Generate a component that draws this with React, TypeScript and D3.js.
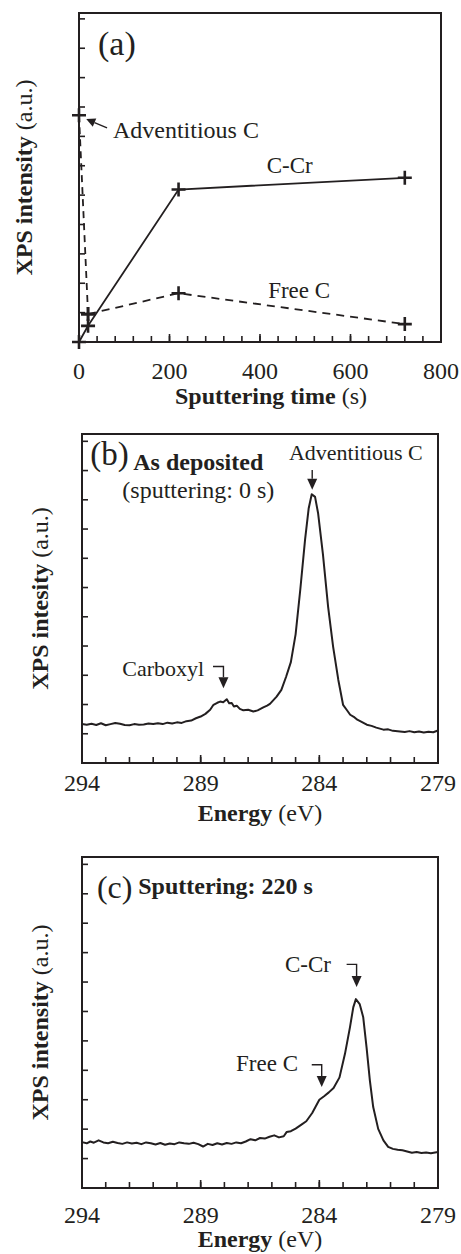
import React from 'react';
import * as d3 from 'd3';

// ---- (a) intensity vs sputtering time ----
const cCrTime = [0, 20, 220, 720];
const cCrIntensity = [0, 0.55, 5.19, 5.59];
const freeCTime = [20, 220, 720];
const freeCIntensity = [0.95, 1.66, 0.61];
const adventTime = [0, 20];
const adventIntensity = [7.72, 0.95];
const timeTicks = [0, 200, 400, 600, 800];

// ---- (b) as deposited spectrum ----
const energyB = [294.0, 293.8, 293.6, 293.4, 293.2, 293.0, 292.8, 292.6, 292.4, 292.2, 292.0, 291.8, 291.6, 291.4, 291.2, 291.0, 290.8, 290.6, 290.4, 290.2, 290.0, 289.8, 289.6, 289.4, 289.2, 289.0,
  288.8, 288.6, 288.46, 288.3, 288.18, 288.05, 287.9, 287.8, 287.69, 287.6, 287.48, 287.35, 287.2, 287.0, 286.78, 286.6, 286.36, 286.2, 286.08, 285.8,
  285.6, 285.4, 285.2, 285.0, 284.8, 284.6, 284.45, 284.32, 284.18, 284.05,
  283.85, 283.63, 283.42, 283.2, 283.0, 282.85, 282.7, 282.55, 282.4, 282.2, 282.0,
  281.8, 281.6, 281.3, 281.1, 280.9, 280.6, 280.4, 280.2, 280.0, 279.8, 279.6, 279.4, 279.2, 279.0];
const intensityB = [1.33, 1.31, 1.34, 1.30, 1.36, 1.29, 1.33, 1.37, 1.34, 1.30, 1.29, 1.33, 1.31, 1.32, 1.35, 1.33, 1.36, 1.33, 1.38, 1.35, 1.39, 1.37, 1.43, 1.45, 1.53, 1.59,
  1.68, 1.82, 1.99, 2.06, 2.10, 2.08, 2.18, 2.04, 2.05, 1.93, 1.96, 1.85, 1.80, 1.82, 1.76, 1.80, 1.90, 1.96, 2.02, 2.27,
  2.50, 2.95, 3.45, 4.40, 5.95, 7.65, 8.70, 9.19, 9.10, 8.53,
  7.15, 5.34, 3.98, 2.84, 1.99, 1.82, 1.65, 1.58, 1.48, 1.40, 1.31,
  1.27, 1.21, 1.14, 1.15, 1.10, 1.08, 1.06, 1.09, 1.05, 1.08, 1.04, 1.07, 1.05, 1.11];

// ---- (c) after 220 s sputtering ----
const energyC = [294.0, 293.8, 293.65, 293.5, 293.3, 293.1, 292.9, 292.7, 292.5, 292.3,
  292.1, 291.9, 291.7, 291.5, 291.3, 291.1, 290.9, 290.7, 290.5, 290.3,
  290.1, 289.9, 289.7, 289.5, 289.3, 289.1, 288.9, 288.7, 288.5, 288.3,
  288.1, 287.9, 287.7, 287.5, 287.3, 287.1, 286.9, 286.7, 286.5, 286.3,
  286.1, 285.9, 285.7, 285.5, 285.38, 285.2, 285.0, 284.8, 284.55, 284.3,
  284.0, 283.8, 283.6, 283.4, 283.15, 282.92, 282.71, 282.57, 282.46, 282.3,
  282.15, 282.01, 281.87, 281.73, 281.52, 281.3, 281.1, 280.9, 280.7, 280.5,
  280.3, 280.1, 279.9, 279.7, 279.5, 279.3, 279.0];
const intensityC = [1.56, 1.52, 1.58, 1.54, 1.62, 1.55, 1.52, 1.57, 1.53, 1.50,
  1.55, 1.51, 1.54, 1.49, 1.55, 1.52, 1.48, 1.53, 1.47, 1.51,
  1.49, 1.55, 1.52, 1.50, 1.54, 1.49, 1.41, 1.50, 1.46, 1.52,
  1.48, 1.53, 1.50, 1.55, 1.52, 1.58, 1.66, 1.62, 1.70, 1.68,
  1.74, 1.79, 1.72, 1.76, 1.90, 1.93, 2.02, 2.13, 2.27, 2.55,
  3.00, 3.12, 3.25, 3.40, 3.76, 4.56, 5.46, 6.14, 6.42, 6.25,
  5.80, 4.78, 3.65, 2.75, 2.01, 1.62, 1.40, 1.33, 1.30, 1.28,
  1.24, 1.20, 1.22, 1.19, 1.21, 1.18, 1.22];
const energyTicks = [294, 289, 284, 279];

const INK = '#231f20';
const FONT = '"Liberation Serif", "Times New Roman", serif';

const zip = (xs: number[], ys: number[]) => xs.map((x, i) => [x, ys[i]] as [number, number]).filter(d => d[1] != null);

type Scale = d3.ScaleLinear<number, number>;

function Frame({ x, y, minor, major, yTicks, labelDy, titleDy, xTitle, xTitleBold, xTitleX, yTitleBold, yTitleX }: any) {
  const [x0, x1] = x.range();
  const [y0, y1] = y.range();
  return (
    <g>
      <rect x={x0} y={y1} width={x1 - x0} height={y0 - y1} fill="none" stroke={INK} strokeWidth={2} />
      {yTicks.map((t: number) => (
        <line key={'y' + t} x1={x0} x2={x0 + 6} y1={y(t)} y2={y(t)} stroke={INK} strokeWidth={1.6} />
      ))}
      {minor.map((t: number) => (
        <line key={'m' + t} x1={x(t)} x2={x(t)} y1={y0} y2={y0 - 6} stroke={INK} strokeWidth={1.6} />
      ))}
      {major.map((t: number) => (
        <g key={'M' + t}>
          <line x1={x(t)} x2={x(t)} y1={y0} y2={y0 - 8} stroke={INK} strokeWidth={1.6} />
          <text x={x(t)} y={y0 + labelDy} textAnchor="middle" fontSize={24}>{t}</text>
        </g>
      ))}
      <text x={xTitleX} y={y0 + titleDy} textAnchor="middle" fontSize={24}>
        <tspan fontWeight="bold">{xTitleBold}</tspan> {xTitle}
      </text>
      <text transform={`translate(${yTitleX},${(y0 + y1) / 2}) rotate(-90)`} textAnchor="middle" fontSize={24}>
        <tspan fontWeight="bold">{yTitleBold}</tspan> (a.u.)
      </text>
    </g>
  );
}

function Cross({ cx, cy }: { cx: number; cy: number }) {
  return (
    <path d={`M${cx - 7},${cy}H${cx + 7}M${cx},${cy - 7}V${cy + 7}`} stroke={INK} strokeWidth={2.6} />
  );
}

// polyline ending in a filled arrow head at the last point
function Arrow({ pts, head = 11, width = 10 }: { pts: [number, number][]; head?: number; width?: number }) {
  const [tx, ty] = pts[pts.length - 1];
  const [px, py] = pts[pts.length - 2];
  const ang = Math.atan2(ty - py, tx - px);
  const bx = tx - head * Math.cos(ang), by = ty - head * Math.sin(ang);
  const nx = -Math.sin(ang) * width / 2, ny = Math.cos(ang) * width / 2;
  const line = pts.slice(0, -1).concat([[bx, by]]);
  return (
    <g>
      <path d={d3.line()(line) || ''} fill="none" stroke={INK} strokeWidth={1.4} />
      <path d={`M${tx},${ty}L${bx + nx},${by + ny}L${bx - nx},${by - ny}Z`} fill={INK} />
    </g>
  );
}

function PanelA() {
  const x: Scale = d3.scaleLinear().domain([0, 800]).range([79, 441]);
  const y: Scale = d3.scaleLinear().domain([0, 11.2]).range([342, 13]);
  const line = d3.line<[number, number]>().x(d => x(d[0])).y(d => y(d[1]));
  const cCr = zip(cCrTime, cCrIntensity);
  const free = zip(freeCTime, freeCIntensity);
  const adv = zip(adventTime, adventIntensity);
  return (
    <g>
      <Frame x={x} y={y} minor={d3.range(0, 801, 40)} major={timeTicks} yTicks={d3.range(1, 12)}
        labelDy={37} titleDy={62} xTitleBold="Sputtering time" xTitle="(s)" xTitleX={271}
        yTitleBold="XPS intensity" yTitleX={32} />
      <path d={line(adv) || ''} fill="none" stroke={INK} strokeWidth={1.8} strokeDasharray="7,5" />
      <path d={line(free) || ''} fill="none" stroke={INK} strokeWidth={1.8} strokeDasharray="8,6" />
      <path d={line(cCr) || ''} fill="none" stroke={INK} strokeWidth={1.8} />
      {[...cCr, ...free, ...adv].map((d, i) => <Cross key={i} cx={x(d[0])} cy={y(d[1])} />)}
      <text x={x(42)} y={y(9.77)} fontSize={34}>(a)</text>
      <text x={x(75)} y={y(6.94)} fontSize={24}>Adventitious C</text>
      <Arrow pts={[[x(62), y(7.29)], [x(16), y(7.59)]]} head={9} width={9} />
      <text x={x(415)} y={y(5.75)} fontSize={23}>C-Cr</text>
      <text x={x(418)} y={y(1.5)} fontSize={23}>Free C</text>
    </g>
  );
}

function SpectrumPanel({ top, bottom, energy, intensity, yTitle, labelDy, titleDy, children }: any) {
  const x: Scale = d3.scaleLinear().domain([294, 279]).range([82, 438]);
  const y: Scale = d3.scaleLinear().domain([0, 11.25]).range([bottom, top]);
  const line = d3.line<[number, number]>().x(d => x(d[0])).y(d => y(d[1]));
  return (
    <g>
      <Frame x={x} y={y} minor={d3.range(293, 279, -1)} major={energyTicks} yTicks={d3.range(1, 12)}
        labelDy={labelDy} titleDy={titleDy} xTitleBold="Energy" xTitle="(eV)" xTitleX={260}
        yTitleBold={yTitle} yTitleX={48} />
      <path d={line(zip(energy, intensity)) || ''} fill="none" stroke={INK} strokeWidth={2} strokeLinejoin="round" />
      {children(x, y)}
    </g>
  );
}

export default function App() {
  return (
    <svg width={461} height={1254} style={{ position: 'absolute', left: 0, top: 0, background: '#fff' }}
      fontFamily={FONT} fill={INK}>
      <rect width={461} height={1254} fill="#fff" />
      <PanelA />
      <SpectrumPanel top={434} bottom={763} energy={energyB} intensity={intensityB} yTitle="XPS intesity"
        labelDy={28} titleDy={58}>
        {(x: Scale, y: Scale) => (
          <g>
            <text x={x(293.65)} y={y(10.19)} fontSize={33}>(b)</text>
            <text x={x(291.84)} y={y(10.02)} fontSize={24} fontWeight="bold">As deposited</text>
            <text x={x(292.3)} y={y(9.06)} fontSize={24}>(sputtering: 0 s)</text>
            <text x={x(285.28)} y={y(10.36)} fontSize={22}>Adventitious C</text>
            <Arrow pts={[[x(284.3), y(10.02)], [x(284.3), y(9.34)]]} />
            <text x={x(292.3)} y={y(2.98)} fontSize={22}>Carboxyl</text>
            <Arrow pts={[[x(288.48), y(3.3)], [x(288.04), y(3.3)], [x(288.04), y(2.56)]]} />
          </g>
        )}
      </SpectrumPanel>
      <SpectrumPanel top={857} bottom={1188} energy={energyC} intensity={intensityC} yTitle="XPS intensity"
        labelDy={35} titleDy={59}>
        {(x: Scale, y: Scale) => (
          <g>
            <text x={x(293.37)} y={y(9.85)} fontSize={32}>(c)</text>
            <text x={x(291.63)} y={y(10.0)} fontSize={24} fontWeight="bold">Sputtering: 220 s</text>
            <text x={x(285.45)} y={y(7.34)} fontSize={23}>C-Cr</text>
            <Arrow pts={[[x(282.85), y(7.6)], [x(282.43), y(7.6)], [x(282.43), y(6.83)]]} />
            <text x={x(287.51)} y={y(3.97)} fontSize={23}>Free C</text>
            <Arrow pts={[[x(284.32), y(4.19)], [x(283.9), y(4.19)], [x(283.9), y(3.43)]]} />
          </g>
        )}
      </SpectrumPanel>
    </svg>
  );
}
